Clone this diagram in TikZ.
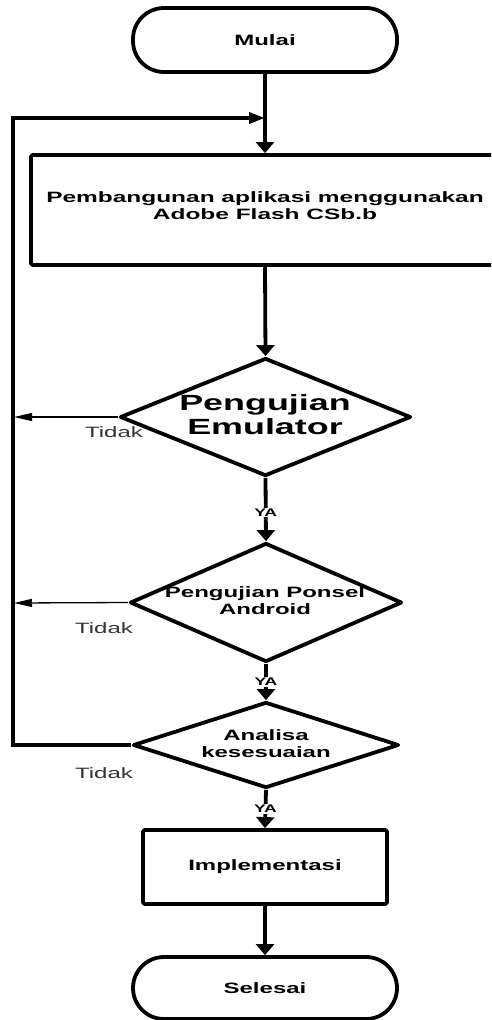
\documentclass[tikz,border=0pt]{standalone}
\usepackage{fontspec}
\setmainfont{Liberation Sans}
\usetikzlibrary{shapes.geometric,arrows.meta}

% wide lettering used throughout the chart
\newcommand{\wide}[2][1.6]{\scalebox{#1}[1]{#2}}

\begin{document}
\begin{tikzpicture}[x=1pt,y=-1pt,
  shp/.style={draw=black,line width=3.8pt,line join=round,fill=white,inner sep=0pt},
  term/.style={shp,rectangle,rounded corners=31pt,minimum width=264pt,minimum height=64pt},
  proc/.style={shp,rectangle,rounded corners=1.5pt},
  dec/.style={shp,diamond,minimum width=#1},
  txt/.style={font=\fontsize{15}{19}\selectfont\bfseries,align=center,inner sep=0pt},
  bigtxt/.style={font=\fontsize{22}{28}\selectfont\bfseries,align=center,inner sep=0pt},
  ya/.style={font=\fontsize{11}{12}\selectfont\bfseries,fill=white,inner sep=1pt},
  no/.style={font=\fontsize{15}{17}\selectfont,text=black!80,inner sep=0pt},
  flow/.style={line width=3.8pt,-{Triangle[length=11pt,width=18pt]}},
  back/.style={line width=3.8pt,line join=miter,-{Triangle[length=16pt,width=11pt]}},
  thin/.style={line width=1.3pt,-{Triangle[length=18pt,width=8pt]}}]

\useasboundingbox (0,0) rectangle (491,1020);
\clip (0,0) rectangle (491,1020);

% loop-back points on the left rail
\coordinate (join) at (265,118);
\coordinate (rail) at (13,118);
\coordinate (r1) at (14,417);
\coordinate (r2) at (14,603);

% labels on the "no" branches
\node[no] (t1) at (114,432) {\wide{Tidak}};
\node[no] (t2) at (104,628) {\wide{Tidak}};
\node[no] (t3) at (104,773) {\wide{Tidak}};

% process steps
\node[term] (mulai) at (265,40) {};
\node[txt] (mulaiT) at (265,40) {\wide{Mulai}};

\node[proc,minimum width=468pt,minimum height=110pt] (build) at (265,210) {};
\node[txt] (buildT) at (265,207) {\wide[1.63]{\begin{tabular}{@{}c@{}}Pembangunan aplikasi menggunakan\\[-2.5pt]Adobe Flash CSb.b\end{tabular}}};

\node[dec=291pt,minimum height=118pt] (emu) at (265.5,417) {};
\node[bigtxt] (emuT) at (265,417) {\wide[1.63]{\begin{tabular}{@{}c@{}}Pengujian\\[-4pt]Emulator\end{tabular}}};

\node[dec=272pt,minimum height=119pt] (hp) at (266,602.5) {};
\node[txt] (hpT) at (265,602) {\wide{\begin{tabular}{@{}c@{}}Pengujian Ponsel\\[-2.5pt]Android\end{tabular}}};

\node[dec=266pt,minimum height=86pt] (ana) at (266,745) {};
\node[txt] (anaT) at (266,745) {\wide{\begin{tabular}{@{}c@{}}Analisa\\[-2.5pt]kesesuaian\end{tabular}}};

\node[proc,minimum width=244pt,minimum height=74pt] (impl) at (265,867) {};
\node[txt] (implT) at (265,867) {\wide{Implementasi}};

\node[term,minimum height=62pt] (end) at (265,988) {};
\node[txt] (endT) at (265,988) {\wide{Selesai}};

% connectors
\draw[flow] (mulai.south) -- (build.north);
\draw[flow] (build.south) -- (emu.north);
\draw[flow] (emu.south) -- node[ya,pos=0.55] (ya1) {\wide{YA}} (hp.north);
\draw[flow] (hp.south) -- node[ya,pos=0.5] (ya2) {\wide{YA}} (ana.north);
\draw[flow] (ana.south) -- node[ya,pos=0.5] (ya3) {\wide{YA}} (impl.north);
\draw[flow] (impl.south) -- (end.north);

\draw[thin] (emu.west) -- (r1);
\draw[thin] (hp.west) -- (r2);
\draw[back] (ana.west) -| (rail) -- (join);
\end{tikzpicture}
\end{document}
